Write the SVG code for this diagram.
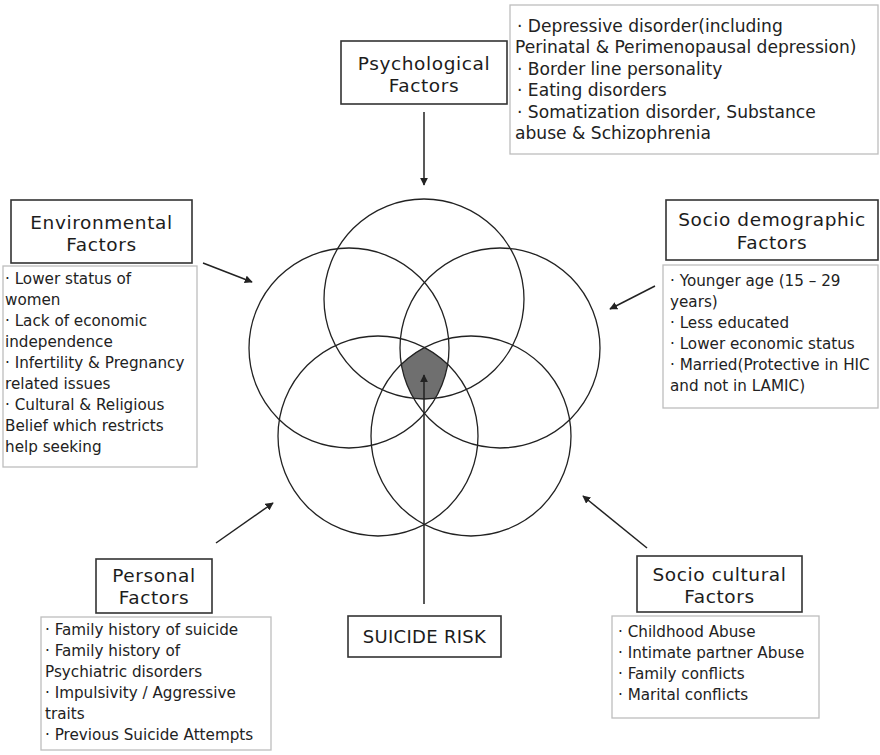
<svg xmlns="http://www.w3.org/2000/svg" width="880" height="755" viewBox="0 0 880 755">
<style>
.title{font-family:"DejaVu Sans","Liberation Sans",sans-serif;font-size:18.5px;letter-spacing:0.6px;fill:#1c1c1c;text-anchor:middle}
.list{font-family:"DejaVu Sans","Liberation Sans",sans-serif;font-size:15.2px;fill:#222}
.big{font-size:17.1px}
.tbox{fill:#fff;stroke:#333;stroke-width:1.6}
.lbox{fill:#fff;stroke:#bdbdbd;stroke-width:1.3}
.circ{fill:none;stroke:#222;stroke-width:1.3}
.conn{stroke:#222;stroke-width:1.5;fill:none;marker-end:url(#ah)}
</style>
<defs>
<marker id="ah" viewBox="0 0 10 10" refX="9" refY="5" markerWidth="8" markerHeight="8" markerUnits="userSpaceOnUse" orient="auto">
<path d="M0,0 L10,5 L0,10 z" fill="#222"/>
</marker>
<clipPath id="c2"><circle cx="349" cy="348" r="100"/></clipPath>
<clipPath id="c3"><circle cx="500" cy="348" r="100"/></clipPath>
<clipPath id="c4"><circle cx="378" cy="436" r="100"/></clipPath>
<clipPath id="c5"><circle cx="471" cy="436" r="100"/></clipPath>
</defs>
<rect width="880" height="755" fill="#fff"/>

<g id="venn">
<g clip-path="url(#c2)"><g clip-path="url(#c3)"><g clip-path="url(#c4)"><g clip-path="url(#c5)">
<circle cx="424" cy="299" r="100" fill="#6f6f6f"/>
</g></g></g></g>
<circle class="circ" cx="424" cy="299" r="100"/>
<circle class="circ" cx="349" cy="348" r="100"/>
<circle class="circ" cx="500" cy="348" r="100"/>
<circle class="circ" cx="378" cy="436" r="100"/>
<circle class="circ" cx="471" cy="436" r="100"/>
</g>

<g id="connectors">
<line class="conn" x1="424" y1="112" x2="424" y2="185"/>
<line class="conn" x1="424" y1="604" x2="424" y2="375"/>
<line class="conn" x1="203" y1="263" x2="252" y2="282"/>
<line class="conn" x1="655" y1="286" x2="610" y2="309"/>
<line class="conn" x1="216" y1="543" x2="273" y2="503"/>
<line class="conn" x1="647" y1="548" x2="583" y2="496"/>
</g>

<g id="psychological">
<rect class="tbox" x="341" y="41" width="166" height="63"/>
<text class="title" x="424" y="70">Psychological</text>
<text class="title" x="424" y="92">Factors</text>
</g>
<g id="psychological-list">
<rect class="lbox" x="510" y="5" width="368" height="149"/>
<text class="list big" x="517" y="32">· Depressive disorder(including</text>
<text class="list big" x="515" y="53">Perinatal &amp; Perimenopausal depression)</text>
<text class="list big" x="517" y="75">· Border line personality</text>
<text class="list big" x="517" y="96">· Eating disorders</text>
<text class="list big" x="517" y="118">· Somatization disorder, Substance</text>
<text class="list big" x="515" y="139">abuse &amp; Schizophrenia</text>
</g>

<g id="environmental">
<rect class="tbox" x="11" y="200" width="181" height="63"/>
<text class="title" x="101.5" y="229">Environmental</text>
<text class="title" x="101.5" y="251">Factors</text>
</g>
<g id="environmental-list">
<rect class="lbox" x="3" y="266" width="194" height="201"/>
<text class="list" x="5" y="284">· Lower status of</text>
<text class="list" x="5" y="305">women</text>
<text class="list" x="5" y="326">· Lack of economic</text>
<text class="list" x="5" y="347">independence</text>
<text class="list" x="5" y="368">· Infertility &amp; Pregnancy</text>
<text class="list" x="5" y="389">related issues</text>
<text class="list" x="5" y="410">· Cultural &amp; Religious</text>
<text class="list" x="5" y="431">Belief which restricts</text>
<text class="list" x="5" y="452">help seeking</text>
</g>

<g id="sociodemographic">
<rect class="tbox" x="666" y="200" width="212" height="60"/>
<text class="title" x="772" y="226">Socio demographic</text>
<text class="title" x="772" y="249">Factors</text>
</g>
<g id="sociodemographic-list">
<rect class="lbox" x="663" y="265" width="215" height="143"/>
<text class="list" x="670" y="286">· Younger age (15 – 29</text>
<text class="list" x="670" y="307">years)</text>
<text class="list" x="670" y="328">· Less educated</text>
<text class="list" x="670" y="349">· Lower economic status</text>
<text class="list" x="670" y="370">· Married(Protective in HIC</text>
<text class="list" x="670" y="391">and not in LAMIC)</text>
</g>

<g id="personal">
<rect class="tbox" x="96" y="559" width="116" height="54"/>
<text class="title" x="154" y="582">Personal</text>
<text class="title" x="154" y="604">Factors</text>
</g>
<g id="personal-list">
<rect class="lbox" x="41" y="617" width="230" height="133"/>
<text class="list" x="45" y="635">· Family history of suicide</text>
<text class="list" x="45" y="656">· Family history of</text>
<text class="list" x="45" y="677">Psychiatric disorders</text>
<text class="list" x="45" y="698">· Impulsivity / Aggressive</text>
<text class="list" x="45" y="719">traits</text>
<text class="list" x="45" y="740">· Previous Suicide Attempts</text>
</g>

<g id="suicide-risk">
<rect class="tbox" x="348" y="616" width="153" height="41"/>
<text class="title" x="424.5" y="643" style="font-size:18px;letter-spacing:0.3px">SUICIDE RISK</text>
</g>

<g id="sociocultural">
<rect class="tbox" x="637" y="556" width="165" height="56"/>
<text class="title" x="719.5" y="581">Socio cultural</text>
<text class="title" x="719.5" y="603">Factors</text>
</g>
<g id="sociocultural-list">
<rect class="lbox" x="612" y="616" width="207" height="102"/>
<text class="list" x="618" y="637">· Childhood Abuse</text>
<text class="list" x="618" y="658">· Intimate partner Abuse</text>
<text class="list" x="618" y="679">· Family conflicts</text>
<text class="list" x="618" y="700">· Marital conflicts</text>
</g>
</svg>
